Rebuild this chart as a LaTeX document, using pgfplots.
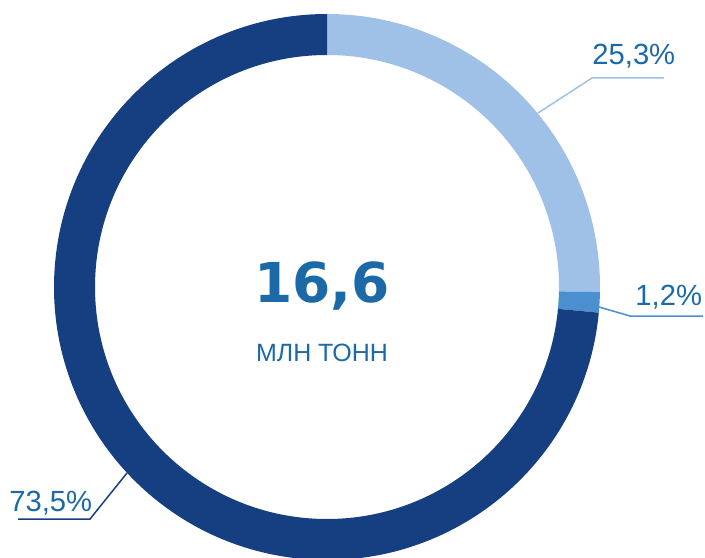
\documentclass[border=0pt]{standalone}
\usepackage{fontspec}
\setmainfont{Liberation Sans}
\newfontfamily\numfont{DejaVu Sans}
\usepackage{xcolor}
\usepackage{pgfplots}
\pgfplotsset{compat=1.18}
\definecolor{lightb}{HTML}{A0C1E7}
\definecolor{midb}{HTML}{4A8FCF}
\definecolor{darkb}{HTML}{163F82}
\definecolor{txtb}{HTML}{1C69A8}

% one ring sector per point: share (pct) and share before it (cum), clockwise from the top
\pgfdeclareplotmark{ring}{%
  \pgfmathsetmacro\aA{90-3.6*\cumv}%
  \pgfmathsetmacro\aB{90-3.6*(\cumv+\pctv)}%
  \pgfpathmoveto{\pgfpointpolar{\aA}{136.5pt}}%
  \pgfpatharc{\aA}{\aB}{136.5pt}%
  \pgfpathlineto{\pgfpointpolar{\aB}{116pt}}%
  \pgfpatharc{\aB}{\aA}{116pt}%
  \pgfpathclose
  \pgfusepath{fill}}

\pgfplotsset{seg/.style={only marks, mark=ring,
  visualization depends on={\thisrow{pct} \as \pctv},
  visualization depends on={\thisrow{cum} \as \cumv}}}

\begin{document}
\begin{tikzpicture}
\begin{axis}[name=ax, at={(0,0)}, anchor=south west,
  x=0.5pt, y=0.5pt, scale only axis,
  xmin=0, xmax=705, ymin=0, ymax=557,
  hide axis, clip=false]
\addplot[seg, color=lightb, fill=lightb] table[row sep=\\] {x y pct cum \\ 327 270 25.3 0 \\};
\addplot[seg, color=midb, fill=midb]     table[row sep=\\] {x y pct cum \\ 327 270 1.2 25.3 \\};
\addplot[seg, color=darkb, fill=darkb]   table[row sep=\\] {x y pct cum \\ 327 270 73.5 26.5 \\};

\draw[lightb, line width=0.75pt] (axis cs:538,444) -- (axis cs:592,479) -- (axis cs:664,479);
\draw[midb, line width=0.75pt] (axis cs:599,250) -- (axis cs:630,241) -- (axis cs:703,241);
\draw[darkb, line width=0.75pt] (axis cs:127,84) -- (axis cs:90,38) -- (axis cs:18,38);

\node[anchor=base west, inner sep=0, text=txtb, font=\fontsize{14.6}{16}\selectfont] at (axis cs:592,492) {25,3\%};
\node[anchor=base west, inner sep=0, text=txtb, font=\fontsize{14.6}{16}\selectfont] at (axis cs:635,251) {1,2\%};
\node[anchor=base west, inner sep=0, text=txtb, font=\fontsize{14.6}{16}\selectfont] at (axis cs:9,46) {73,5\%};

\node[anchor=base, inner sep=0, text=txtb, font=\numfont\bfseries\fontsize{27.5}{30}\selectfont] at (axis cs:322,255) {16,6};
\node[anchor=base, inner sep=0, text=txtb, font=\fontsize{12.5}{14}\selectfont] at (axis cs:322,196) {МЛН ТОНН};
\end{axis}
\pgfresetboundingbox
\useasboundingbox (ax.south west) rectangle (ax.north east);
\end{tikzpicture}
\end{document}
